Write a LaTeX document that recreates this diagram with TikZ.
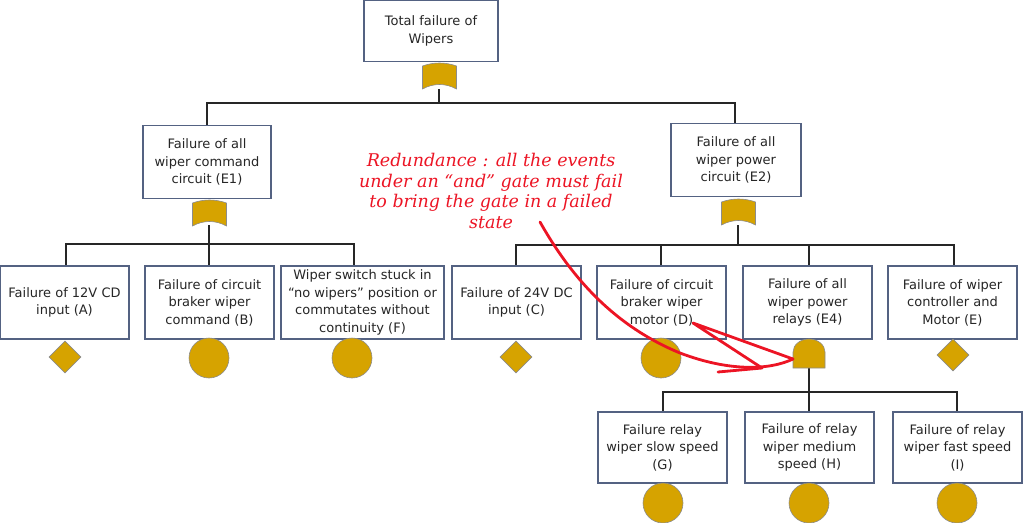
\documentclass[tikz,border=0pt]{standalone}
\usepackage{fontspec}
\setmainfont{DejaVu Sans}
\newfontfamily\notefont{DejaVu Serif}
\usetikzlibrary{shapes.geometric}
\definecolor{boxline}{RGB}{84,98,130}
\definecolor{gatefill}{RGB}{214,163,0}
\definecolor{noteRed}{RGB}{236,20,36}
\newcommand{\orgate}[2]{%
	\filldraw[gate] (#1-17,#2+3) .. controls (#1-6,#2-1) and (#1+6,#2-1) .. (#1+17,#2+3)
	-- (#1+17,#2+26) .. controls (#1+6,#2+20) and (#1-6,#2+20) .. (#1-17,#2+26) -- cycle;}
\newcommand{\andgate}[2]{%
	\filldraw[gate] (#1-16,#2+29) -- (#1-16,#2+13)
	arc[start angle=180, end angle=360, x radius=16, y radius=13] -- (#1+16,#2+29) -- cycle;}

\begin{document}
\begin{tikzpicture}[x=1pt,y=-1pt,
	box/.style={draw=boxline, line width=1.1pt, fill=white, align=center, inner sep=0pt,
		minimum width=129pt, minimum height=73pt, text=black!85,
		font=\fontsize{13}{17.5}\selectfont},
	gate/.style={fill=gatefill, draw=black!45, line width=0.6pt},
	link/.style={draw=black!85, line width=1.3pt},
	basic/.style={circle, fill=gatefill, draw=black!45, line width=0.6pt, minimum size=40pt, inner sep=0pt},
	house/.style={diamond, fill=gatefill, draw=black!45, line width=0.6pt, minimum width=32pt, minimum height=32pt, inner sep=0pt},
	remark/.style={draw=noteRed, line width=2.8pt, line cap=round, line join=round}]
	\useasboundingbox (0,0) rectangle (1024,522);

	% gate outputs
	\coordinate (g0) at (439,89);
	\coordinate (g1) at (209,225);
	\coordinate (g2) at (738,225);
	\coordinate (g4) at (809,368);

	% tree links
	\draw[link] (g0) -- ++(0,14) -| (207,126);
	\draw[link] (g0) -- ++(0,14) -| (735,124);
	\draw[link] (g1) -- ++(0,19) -| (66,266);
	\draw[link] (g1) -- ++(0,19) -| (209,266);
	\draw[link] (g1) -- ++(0,19) -| (354,266);
	\draw[link] (g2) -- ++(0,20) -| (516,266);
	\draw[link] (g2) -- ++(0,20) -| (661,266);
	\draw[link] (g2) -- ++(0,20) -| (809,266);
	\draw[link] (g2) -- ++(0,20) -| (954,266);
	\draw[link] (g4) -- ++(0,24) -| (663,412);
	\draw[link] (g4) -- ++(0,24) -| (809,412);
	\draw[link] (g4) -- ++(0,24) -| (957,412);

	% events
	\node[box, minimum width=134pt, minimum height=61pt] (top) at (431,31) {Total failure of\\Wipers};
	\node[box, minimum width=128pt] (e1) at (207,162) {Failure of all\\wiper command\\circuit (E1)};
	\node[box, minimum width=130pt] (e2) at (736,160) {Failure of all\\wiper power\\circuit (E2)};
	\node[box] (a) at (64.5,302.5) {Failure of 12V CD\\input (A)};
	\node[box] (b) at (209.5,302.5) {Failure of circuit\\braker wiper\\command (B)};
	\node[box, minimum width=163pt] (f) at (362.5,302.5) {Wiper switch stuck in\\“no wipers” position or\\commutates without\\continuity (F)};
	\node[box] (c) at (516.5,302.5) {Failure of 24V DC\\input (C)};
	\node[box] (d) at (661.5,302.5) {Failure of circuit\\braker wiper\\motor (D)};
	\node[box] (e4) at (807.5,302.5) {Failure of all\\wiper power\\relays (E4)};
	\node[box] (e) at (952.5,302.5) {Failure of wiper\\controller and\\Motor (E)};
	\node[box, minimum height=71pt] (g) at (662.5,447.5) {Failure relay\\wiper slow speed\\(G)};
	\node[box, minimum height=71pt] (h) at (809.5,447.5) {Failure of relay\\wiper medium\\speed (H)};
	\node[box, minimum height=71pt] (i) at (957.5,447.5) {Failure of relay\\wiper fast speed\\(I)};

	% gates
	\orgate{439.5}{63}
	\orgate{209.5}{200}
	\orgate{738.5}{199}
	\andgate{809}{339}

	% basic and undeveloped events
	\node[house] (ea) at (65,357) {};
	\node[basic] (eb) at (209,358) {};
	\node[basic] (ef) at (352,358) {};
	\node[house] (ec) at (516,357) {};
	\node[basic] (ed) at (661,358) {};
	\node[house] (ee) at (953,355) {};
	\node[basic] (eg) at (663,503) {};
	\node[basic] (eh) at (809,503) {};
	\node[basic] (ei) at (957,503) {};

	% remark
	\node[text=noteRed, align=center, font=\notefont\itshape\fontsize{17.5}{20.8}\selectfont] (note) at (491,191)
		{Redundance : all the events\\under an “and” gate must fail\\to bring the gate in a failed\\state};
	\coordinate (tail) at (540,222);
	\coordinate (tip) at (793,359);
	\coordinate (barb1) at (718,372);
	\coordinate (barb2) at (762,368);
	\coordinate (barb3) at (693,323);
	\draw[remark] (tail) .. controls (570,275) and (612,325) .. (680,353)
		.. controls (730,372) and (770,370) .. (tip);
	\draw[remark] (barb1) -- (barb2) -- (barb3) -- (tip);
\end{tikzpicture}
\end{document}
